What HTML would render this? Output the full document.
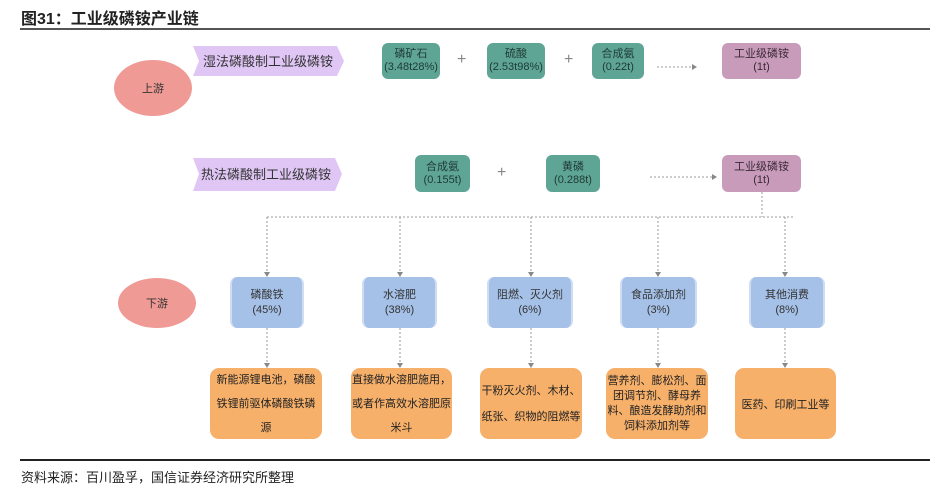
<!DOCTYPE html>
<html><head><meta charset="utf-8"><style>
body{margin:0;width:949px;height:486px;background:#fff;position:relative;overflow:hidden;font-family:"Liberation Sans","Noto Sans CJK SC",sans-serif;}
.a{position:absolute;box-sizing:border-box;display:flex;align-items:center;justify-content:center;text-align:center;}
.t{background:#5fa596;border-radius:6px;color:#1e3a34;font-size:11px;line-height:13px;}
.p{background:#c99bbb;border-radius:6px;color:#3a2a36;font-size:11px;line-height:13px;}
.b{background:#a6c1e8;border-radius:7px;color:#333;font-size:11px;line-height:15px;border-left:2px solid #cfdcf2;border-right:2px solid #cfdcf2;}
.o{background:#f7b06a;border-radius:9px;color:#222;font-size:11px;white-space:nowrap;}
.pl{position:absolute;font-size:16px;color:#888;}
</style></head><body>
<div style="position:absolute;left:21px;top:5px;font-size:16px;font-weight:bold;color:#222;">图31：工业级磷铵产业链</div>
<div style="position:absolute;left:20px;top:28px;width:910px;height:2px;background:#555"></div>
<svg width="949" height="486" style="position:absolute;left:0;top:0">
<ellipse cx="153" cy="88" rx="39" ry="28" fill="#ef9a94"/>
<ellipse cx="157" cy="303" rx="39" ry="25" fill="#ef9a94"/>
<polygon points="193,46 337,46 344,61 337,76 193,76 199,61" fill="#e0c6f5"/>
<polygon points="193,158 335,158 342,174 335,191 193,191 199,174" fill="#e0c6f5"/>
<g stroke="#999" stroke-width="1" stroke-dasharray="2,2" fill="none">
<line x1="657" y1="67" x2="692" y2="67"/>
<line x1="650" y1="177" x2="712" y2="177"/>
<line x1="762" y1="192" x2="762" y2="217"/>
<line x1="267" y1="217" x2="795" y2="217"/>
<line x1="267" y1="217" x2="267" y2="273"/><line x1="400" y1="217" x2="400" y2="273"/><line x1="531" y1="217" x2="531" y2="273"/><line x1="658" y1="217" x2="658" y2="273"/><line x1="785" y1="217" x2="785" y2="273"/>
<line x1="267" y1="328" x2="267" y2="364"/><line x1="400" y1="328" x2="400" y2="364"/><line x1="531" y1="328" x2="531" y2="364"/><line x1="658" y1="328" x2="658" y2="364"/><line x1="785" y1="328" x2="785" y2="364"/>
</g>
<g fill="#888">
<polygon points="692,64 697,67 692,70"/><polygon points="712,174 717,177 712,180"/>
<polygon points="264,272 270,272 267,277"/><polygon points="397,272 403,272 400,277"/><polygon points="528,272 534,272 531,277"/><polygon points="655,272 661,272 658,277"/><polygon points="782,272 788,272 785,277"/>
<polygon points="264,363 270,363 267,368"/><polygon points="397,363 403,363 400,368"/><polygon points="528,363 534,363 531,368"/><polygon points="655,363 661,363 658,368"/><polygon points="782,363 788,363 785,368"/>
</g>
<text x="153" y="92" font-size="11" text-anchor="middle" fill="#333" font-family="Liberation Sans,Noto Sans CJK SC,sans-serif">上游</text>
<text x="157" y="307" font-size="11" text-anchor="middle" fill="#333" font-family="Liberation Sans,Noto Sans CJK SC,sans-serif">下游</text>
<text x="203" y="66" font-size="13" fill="#333" font-family="Liberation Sans,Noto Sans CJK SC,sans-serif">湿法磷酸制工业级磷铵</text>
<text x="201" y="179" font-size="13" fill="#333" font-family="Liberation Sans,Noto Sans CJK SC,sans-serif">热法磷酸制工业级磷铵</text>
</svg>
<div class="a t" style="left:382px;top:43px;width:58px;height:36px;">磷矿石<br>(3.48t28%)</div>
<div class="pl" style="left:457px;top:51px;">+</div>
<div class="a t" style="left:487px;top:43px;width:58px;height:36px;">硫酸<br>(2.53t98%)</div>
<div class="pl" style="left:564px;top:51px;">+</div>
<div class="a t" style="left:592px;top:43px;width:52px;height:36px;">合成氨<br>(0.22t)</div>
<div class="a p" style="left:722px;top:43px;width:79px;height:36px;">工业级磷铵<br>(1t)</div>
<div class="a t" style="left:415px;top:155px;width:55px;height:37px;">合成氨<br>(0.155t)</div>
<div class="pl" style="left:497px;top:164px;">+</div>
<div class="a t" style="left:546px;top:155px;width:54px;height:37px;">黄磷<br>(0.288t)</div>
<div class="a p" style="left:722px;top:155px;width:79px;height:37px;">工业级磷铵<br>(1t)</div>
<div class="a b" style="left:230px;top:277px;width:74px;height:51px;">磷酸铁<br>(45%)</div>
<div class="a b" style="left:362px;top:277px;width:75px;height:51px;">水溶肥<br>(38%)</div>
<div class="a b" style="left:487px;top:277px;width:86px;height:51px;">阻燃、灭火剂<br>(6%)</div>
<div class="a b" style="left:620px;top:277px;width:77px;height:51px;">食品添加剂<br>(3%)</div>
<div class="a b" style="left:749px;top:277px;width:76px;height:51px;">其他消费<br>(8%)</div>
<div class="a o" style="left:210px;top:368px;width:112px;height:71px;line-height:24px;">新能源锂电池，磷酸<br>铁锂前驱体磷酸铁磷<br>源</div>
<div class="a o" style="left:351px;top:368px;width:101px;height:71px;line-height:24px;">直接做水溶肥施用，<br>或者作高效水溶肥原<br>米斗</div>
<div class="a o" style="left:480px;top:368px;width:102px;height:71px;line-height:26px;">干粉灭火剂、木材、<br>纸张、织物的阻燃等</div>
<div class="a o" style="left:606px;top:368px;width:102px;height:71px;line-height:15px;">营养剂、膨松剂、面<br>团调节剂、酵母养<br>料、酿造发酵助剂和<br>饲料添加剂等</div>
<div class="a o" style="left:735px;top:368px;width:101px;height:71px;">医药、印刷工业等</div>
<div style="position:absolute;left:20px;top:459px;width:910px;height:2px;background:#222"></div>
<div style="position:absolute;left:21px;top:467px;font-size:13px;color:#222;">资料来源：百川盈孚，国信证券经济研究所整理</div>
</body></html>
